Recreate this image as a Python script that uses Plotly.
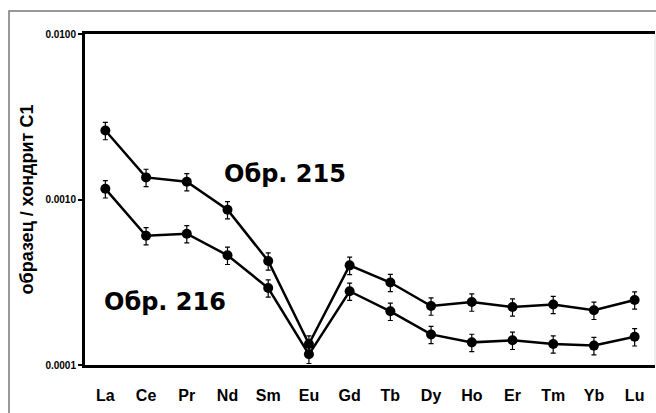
import plotly.graph_objects as go

elements = ["La", "Ce", "Pr", "Nd", "Sm", "Eu", "Gd", "Tb", "Dy", "Ho", "Er", "Tm", "Yb", "Lu"]
sample_215 = [0.00261, 0.00136, 0.00128, 0.000867, 0.000425, 0.000134, 0.000400,
              0.000315, 0.000227, 0.000240, 0.000224, 0.000232, 0.000214, 0.000247]
sample_216 = [0.00116, 0.000604, 0.000621, 0.000460, 0.000292, 0.000116, 0.000279,
              0.000211, 0.000153, 0.000137, 0.000141, 0.000134, 0.000131, 0.000148]
err_pct = 12
y_tickvals = [0.0001, 0.001, 0.01]
y_ticktext = ["0.0001", "0.0010", "0.0100"]
y_title = "образец / хондрит С1"
label_215 = "Обр. 215"
label_216 = "Обр. 216"

fig = go.Figure()
for vals in (sample_215, sample_216):
    fig.add_trace(go.Scatter(
        x=elements, y=vals, mode="lines+markers",
        line=dict(color="black", width=2.5),
        marker=dict(color="black", size=10, symbol="circle"),
        error_y=dict(type="percent", value=err_pct, color="black", thickness=1.2, width=2.5),
        showlegend=False, cliponaxis=False,
    ))

fig.add_annotation(x=0.24, y=0.578, xref="paper", yref="paper", text=label_215,
                   showarrow=False, xanchor="left", yanchor="middle",
                   font=dict(family="DejaVu Sans", size=24, color="black", weight="bold"))
fig.add_annotation(x=0.03, y=0.19, xref="paper", yref="paper", text=label_216,
                   showarrow=False, xanchor="left", yanchor="middle",
                   font=dict(family="DejaVu Sans", size=24, color="black", weight="bold"))

# outer frame
fig.add_shape(type="rect", xref="paper", yref="paper",
              x0=-0.1333, x1=1.02, y0=-0.3, y1=1.0695,
              line=dict(color="#777777", width=1.5), layer="below")
# faint right edge of plot area
fig.add_shape(type="line", xref="paper", yref="paper", x0=1, x1=1, y0=0, y1=1,
              line=dict(color="#dddddd", width=1))

fig.update_layout(
    width=656, height=413,
    margin=dict(l=85, r=1, t=34, b=48),
    paper_bgcolor="white", plot_bgcolor="white",
    font=dict(family="Liberation Sans", color="black"),
    xaxis=dict(
        type="category", range=[-0.5, 13.5],
        showline=True, linecolor="black", linewidth=3, mirror=True,
        showgrid=False, zeroline=False,
        ticks="outside", ticklen=14, tickcolor="rgba(0,0,0,0)",
        tickfont=dict(family="Liberation Sans", size=16, color="black", weight="bold"),
    ),
    yaxis=dict(
        type="log", range=[-4, -2],
        tickvals=y_tickvals, ticktext=y_ticktext,
        showline=True, linecolor="black", linewidth=3,
        showgrid=False, zeroline=False,
        ticks="outside", ticklen=4, tickwidth=2, tickcolor="black",
        tickfont=dict(family="Liberation Sans", size=10, color="black", weight="bold"),
        title=dict(text=y_title, standoff=8,
                   font=dict(family="Liberation Sans", size=18, color="black", weight="bold")),
    ),
)

fig.write_html("out.html")
